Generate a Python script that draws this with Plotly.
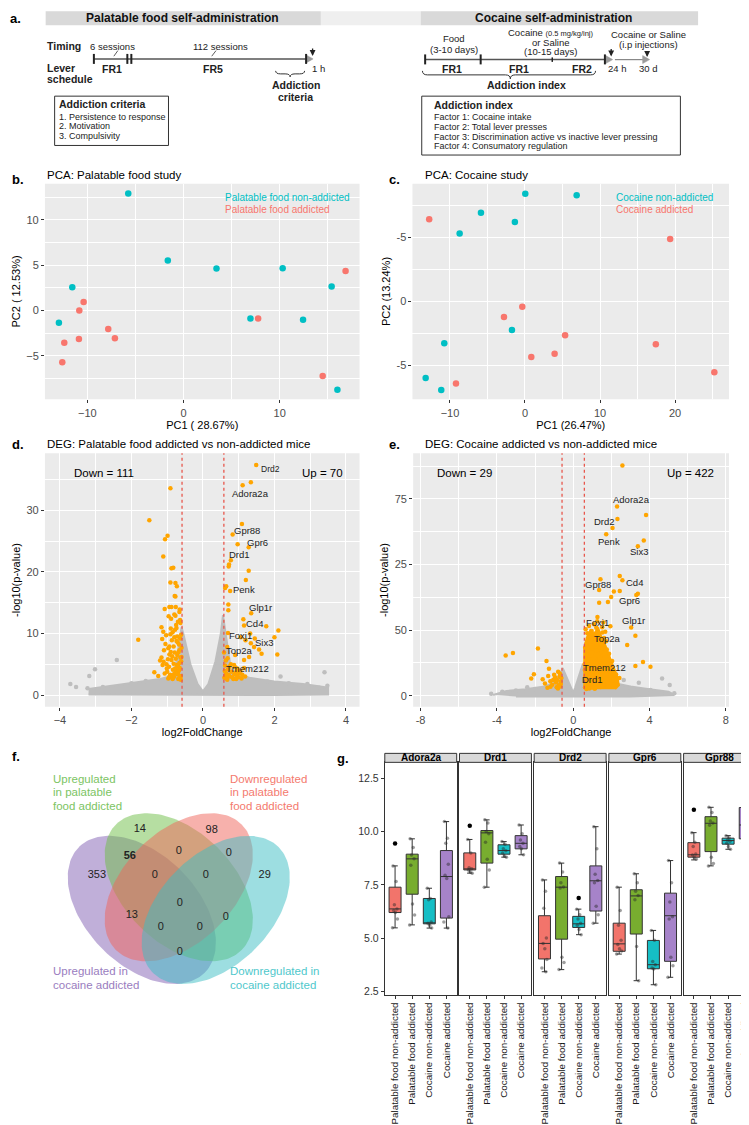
import numpy as np
import plotly.graph_objects as go

W, H = 749, 1125
FONT = "Liberation Sans, Arial, sans-serif"
RED, TEAL = "#F8766D", "#00BFC4"
ORANGE, GREY = "#FFA500", "#BEBEBE"
PANEL_BG = "#EBEBEB"

# ---------------- data ----------------
# b. PCA palatable food study
PF_NA_PC1 = [-5.74, -1.63, 3.43, 10.31, 15.4, -11.56, -12.95, 6.96, 12.43, 16.0]
PF_NA_PC2 = [12.93, 5.51, 4.63, 4.66, 2.64, 2.57, -1.36, -0.88, -1.03, -8.75]
PF_A_PC1 = [16.85, -10.38, -10.83, -7.82, -7.13, -10.87, -12.39, -12.6, 7.76, 14.47]
PF_A_PC2 = [4.37, 0.95, 0.0, -2.03, -3.05, -3.13, -3.57, -5.7, -0.88, -7.24]

# c. PCA cocaine study
COC_NA_PC1 = [0.04, 6.89, -5.87, -1.35, -8.71, -1.74, -10.76, -13.24, -11.16]
COC_NA_PC2 = [8.41, 8.3, 6.93, 6.2, 5.31, -2.24, -3.28, -5.99, -6.93]
COC_A_PC1 = [-12.77, 19.35, -0.36, -2.8, 5.35, 17.44, 3.95, 0.84, -9.2, 25.24]
COC_A_PC2 = [6.41, 4.87, -0.42, -1.22, -2.66, -3.36, -4.09, -4.35, -6.43, -5.55]
COC_Y_TICKS = [-5, 0, 5]
COC_Y_TEXT = ["-5", "0", "-5"]

# d. volcano palatable food
D_UP_X = [1.49, 1.34, 1.11, 1.09, 0.83, 0.97, 1.28, 0.78, 0.73, 0.72, 1.28, 1.20, 0.65, 0.62, 0.76,
          0.71, 0.71, 1.35, 1.13, 1.15, 1.77, 2.11, 0.70, 1.32, 1.45, 2.00, 1.34, 1.57, 1.64, 2.08,
          1.29, 1.06, 1.19, 0.68, 0.59, 0.90, 1.15, 1.43,
          0.60, 0.65, 0.70, 0.75, 0.80, 0.85, 0.90, 0.95, 1.00, 1.05, 1.10, 1.15, 0.62, 0.68, 0.78,
          0.88, 0.98, 1.08, 0.72, 0.82, 0.92, 1.18, 0.61, 0.64, 0.66, 0.87, 0.93, 1.02, 0.74, 0.69,
          0.63, 0.96]
D_UP_Y = [37.4, 34.6, 34.1, 27.8, 26.1, 24.5, 24.0, 21.9, 21.2, 20.9, 20.2, 18.7, 17.7, 17.4, 16.9,
          14.7, 13.8, 13.3, 12.3, 11.3, 11.2, 10.5, 10.1, 10.0, 9.2, 9.4, 8.4, 7.4, 6.7, 6.6,
          6.2, 9.4, 8.9, 7.8, 6.9, 6.5, 5.7, 7.8,
          2.8, 3.5, 4.2, 3.0, 3.8, 2.6, 4.5, 3.2, 2.9, 3.9, 3.3, 4.4, 4.8, 2.5, 5.0,
          3.4, 4.0, 2.7, 3.3, 2.9, 3.7, 3.0, 3.9, 5.6, 2.7, 4.9, 2.6, 3.6, 4.6, 6.0,
          3.1, 4.3]
D_DOWN_X = [-0.91, -1.50, -0.99, -1.06, -1.11, -0.83, -0.88, -0.91, -0.77, -0.73, -0.77, -0.79, -0.94,
            -0.76, -1.07, -1.81, -1.36, -1.16, -1.11, -0.94, -0.90, -1.16, -1.10, -1.01, -1.07, -0.94,
            -0.80, -0.71, -0.66, -0.76, -0.69, -0.80, -0.64, -0.83, -0.88, -0.66, -0.64, -1.13, -1.20,
            -0.62, -0.65, -0.68, -0.72, -0.75, -0.78, -0.82, -0.85, -0.87, -0.92, -0.96, -0.98, -1.03,
            -0.61, -0.63, -0.67, -0.70, -0.74, -0.79, -0.84, -0.89, -0.93, -0.97, -1.00, -1.05, -0.60,
            -0.64, -0.69, -0.73, -0.77, -0.81, -0.86, -0.91, -0.95, -0.62, -0.66, -0.71, -0.75, -0.80,
            -0.85, -0.61, -0.68, -0.74, -0.82, -0.88, -0.97, -1.09, -1.14, -0.63, -0.70, -0.78, -0.86,
            -0.94, -1.02, -0.65, -0.72, -0.67, -0.90, -1.25, -0.60]
D_DOWN_Y = [33.6, 28.4, 25.9, 25.3, 22.5, 20.7, 20.6, 18.3, 18.2, 17.7, 16.0, 16.1, 14.3,
            14.3, 14.0, 9.0, 3.7, 11.0, 10.3, 7.9, 7.0, 6.1, 5.4, 4.3, 3.5, 3.0,
            9.4, 8.6, 7.3, 5.9, 4.6, 3.5, 2.9, 2.8, 14.3, 13.5, 12.2, 4.9, 5.6,
            3.1, 4.4, 2.7, 6.5, 3.9, 10.6, 5.1, 2.6, 8.9, 3.3, 12.8, 5.8, 9.7,
            5.5, 11.7, 8.2, 3.6, 10.9, 6.9, 4.1, 12.4, 2.9, 7.6, 3.8, 8.3, 7.7,
            9.2, 2.6, 4.9, 12.9, 3.0, 6.3, 9.9, 4.6, 2.5, 5.2, 3.4, 11.4, 13.1,
            10.2, 9.8, 7.0, 8.8, 7.9, 5.7, 2.7, 7.3, 9.1, 6.1, 11.9, 4.3, 3.2,
            6.6, 5.0, 13.9, 9.5, 4.0, 10.8, 3.1, 6.2]
D_GREY_X = [-3.71, -3.55, -3.18, -3.02, -2.41, -3.23, -2.80, 3.40, 3.48, 3.25, 2.92, 2.17, 2.59,
            -2.0, -1.6, 1.8, 2.4]
D_GREY_Y = [1.8, 1.3, 3.1, 4.2, 5.7, 1.1, 1.3, 3.7, 1.5, 1.2, 1.8, 3.0, 1.6, 1.9, 2.3, 2.2, 1.9]
# outline of the dense grey cloud
D_CLOUD_X = [-3.2, -2.5, -1.8, -1.2, -0.8, -0.6, -0.55, -0.35, -0.15, 0.0, 0.15, 0.35, 0.5, 0.56,
             0.8, 1.3, 2.0, 2.8, 3.5, 3.5, 2.0, 0.0, -2.0, -3.2]
D_CLOUD_Y = [1.0, 1.6, 2.2, 2.6, 3.2, 11.0, 10.0, 5.0, 1.8, 0.6, 1.8, 5.5, 10.0, 13.0,
             3.5, 2.8, 2.2, 1.8, 1.2, 0.1, 0.0, 0.0, 0.0, 0.1]
D_GENES = ["Drd2", "Adora2a", "Gpr88", "Gpr6", "Drd1", "Penk", "Glp1r", "Cd4", "Foxj1", "Six3",
           "Top2a", "Tmem212"]
D_GENE_X = [1.58, 1.34, 1.24, 1.52, 1.03, 1.15, 1.60, 1.43, 1.06, 1.71, 1.03, 1.24]
D_GENE_Y = [36.7, 32.7, 26.8, 24.8, 22.8, 17.1, 14.2, 11.7, 9.7, 8.6, 7.2, 4.3]

# e. volcano cocaine (y in axis units, tick labels as printed)
E_UP_X = [2.58, 2.30, 3.82, 2.32, 2.06, 1.73, 3.70, 3.39, 2.44, 1.43, 2.58, 1.36, 2.13, 2.44, 3.39,
          3.31, 1.99, 1.36, 1.82, 1.27, 1.95, 3.04, 3.26, 2.83, 3.66, 4.05, 3.26, 2.42,
          0.62, 0.68, 0.75, 0.81, 0.88, 0.95, 1.02, 1.10, 1.18, 1.25, 1.33, 1.42, 1.50, 1.60, 1.70,
          1.82, 1.95, 2.10, 2.25,
          0.64, 0.71, 0.79, 0.86, 0.93, 1.00, 1.08, 1.16, 1.24, 1.31, 1.40, 1.48, 1.57, 1.66, 1.77,
          1.90, 2.04,
          0.60, 0.66, 0.73, 0.80, 0.90, 0.98, 1.06, 1.14, 1.22, 1.30, 1.38, 1.47, 1.55, 1.65, 1.76,
          1.88,
          0.63, 0.70, 0.77, 0.85, 0.92, 1.04, 1.12, 1.20, 1.28, 1.36, 1.45, 1.53, 1.62, 1.72,
          0.65, 0.74, 0.83, 0.97, 1.09, 1.21, 1.35, 1.52, 1.68, 0.61, 0.72, 0.87, 1.01, 1.15, 1.29,
          1.44, 0.69, 0.84, 0.99, 1.13, 0.67, 0.91, 1.26, 1.58]
E_UP_Y = [87.7, 72.1, 68.9, 67.3, 63.9, 61.5, 59.1, 57.0, 45.6, 44.4, 44.0, 40.3, 39.7, 39.9, 38.9,
          38.4, 37.6, 35.4, 35.7, 30.0, 26.5, 26.0, 22.9, 19.3, 12.9, 11.0, 11.3, 6.8,
          3.2, 4.1, 3.6, 5.0, 3.9, 4.6, 3.4, 5.3, 4.0, 6.1, 3.7, 4.8, 5.6, 4.3, 6.4,
          5.1, 7.2, 6.0, 8.1,
          7.5, 8.9, 6.8, 10.2, 8.3, 9.6, 7.1, 11.0, 8.7, 10.4, 7.8, 12.3, 9.1, 10.9, 11.8,
          9.4, 13.2,
          12.1, 14.5, 11.3, 15.8, 13.6, 16.4, 14.1, 12.8, 17.2, 15.0, 13.9, 16.7, 18.1, 14.8, 17.6,
          16.0,
          18.4, 19.9, 17.3, 21.2, 19.0, 22.5, 20.3, 18.8, 23.4, 21.7, 19.6, 24.1, 22.0, 20.8,
          25.3, 23.8, 26.6, 24.7, 27.2, 25.9, 23.0, 26.1, 24.4, 9.8, 6.2, 3.0, 5.8, 2.9, 4.9,
          3.3, 2.6, 2.8, 3.1, 2.7, 15.5, 20.6, 28.4, 27.9]
E_CORE_X = [0.58, 0.58, 0.7, 0.9, 1.1, 1.3, 1.5, 1.7, 1.9, 2.1, 2.3, 2.4, 2.2]
E_CORE_Y = [2.5, 18.0, 22.0, 25.0, 23.5, 26.0, 22.0, 19.0, 15.0, 11.0, 7.5, 4.0, 2.5]
E_DOWN_X = [-3.54, -3.16, -1.85, -1.40, -1.27, -0.79, -2.06, -2.20, -1.31, -1.48, -1.19, -0.87, -0.66,
            -0.95, -0.70, -1.05, -0.75, -1.60, -0.90, -1.10, -0.62, -0.80, -1.35, -0.68, -1.00, -0.72,
            -1.20, -0.85, -0.65]
E_DOWN_Y = [15.3, 16.3, 18.0, 13.2, 10.3, 9.1, 8.2, 6.6, 7.5, 4.7, 3.4, 3.2, 5.3,
            7.0, 8.5, 6.0, 4.0, 6.3, 5.0, 4.2, 6.8, 2.8, 3.0, 3.5, 8.0, 7.2,
            5.5, 6.0, 4.5]
E_GREY_X = [4.66, 5.06, -3.72, -2.41, 4.05, 3.44, 2.65, -4.3, -3.0, 5.3, -2.0, 3.0]
E_GREY_Y = [6.6, 4.1, 1.5, 3.2, 2.2, 4.9, 6.0, 0.8, 2.0, 0.9, 2.6, 2.9]
E_CLOUD_X = [-4.2, -3.5, -2.5, -1.5, -1.0, -0.7, -0.55, -0.3, -0.1, 0.0, 0.1, 0.3, 0.5, 0.7,
             1.2, 2.0, 3.0, 4.0, 5.0, 5.3, 3.0, 0.0, -3.0]
E_CLOUD_Y = [0.3, 1.8, 2.5, 3.5, 5.0, 8.0, 10.5, 6.0, 2.5, 1.2, 3.0, 8.0, 12.0, 10.0,
             6.0, 5.0, 3.5, 2.5, 1.5, 0.3, -0.3, -0.3, -0.3]
E_Y_TICKS = [0, 25, 50, 75]
E_Y_TEXT = ["0", "50", "25", "75"]
E_GENES = ["Adora2a", "Drd2", "Penk", "Six3", "Gpr88", "Cd4", "Gpr6", "Foxj1", "Glp1r", "Top2a",
           "Tmem212", "Drd1"]
E_GENE_X = [3.05, 1.64, 1.87, 3.44, 1.29, 3.21, 2.95, 1.26, 3.14, 1.78, 1.64, 0.99]
E_GENE_Y = [74.9, 66.5, 58.9, 55.0, 42.2, 43.3, 36.4, 27.8, 28.8, 21.8, 10.6, 6.0]

# f. Venn counts
VENN_COUNTS = [14, 98, 56, 0, 0, 353, 0, 0, 29, 0, 13, 0, 0, 0, 0]
VENN_LX = [132, 204, 122, 171, 221, 89, 147, 198, 257, 172, 124, 218, 153, 192, 172]
VENN_LY = [823, 824, 850, 845, 847, 869, 869, 869, 869, 897, 909, 911, 921, 921, 946]

# g. boxplots
GENES_G = ["Adora2a", "Drd1", "Drd2", "Gpr6", "Gpr88"]
GROUPS = ["Palatable food non-addicted", "Palatable food addicted", "Cocaine non-addicted",
          "Cocaine addicted"]
Q1 = [[6.20, 7.06, 5.67, 5.94], [8.20, 8.52, 8.94, 9.19], [4.02, 4.95, 5.50, 6.27],
      [4.38, 5.19, 3.56, 3.91], [8.80, 9.06, 9.41, 9.66]]
MED = [[6.37, 8.72, 5.70, 7.89], [8.25, 9.94, 9.11, 9.45], [4.75, 7.39, 5.67, 7.69],
       [4.73, 6.98, 3.75, 6.05], [8.91, 10.39, 9.58, 10.31]]
Q3 = [[7.39, 8.94, 6.86, 9.11], [9.00, 10.05, 9.38, 9.81], [6.05, 7.89, 6.02, 8.39],
      [5.70, 7.27, 4.89, 7.11], [9.48, 10.70, 9.69, 11.13]]
LOW = [[5.48, 5.62, 5.47, 5.47], [8.05, 7.39, 8.80, 8.91], [3.42, 3.52, 5.16, 5.70],
       [4.25, 3.00, 2.81, 3.16], [8.67, 8.39, 9.17, 9.42]]
HIGH = [[8.39, 9.66, 7.34, 10.47], [9.63, 10.55, 9.53, 10.31], [7.73, 8.52, 6.36, 10.23],
        [7.39, 8.02, 5.36, 8.64], [9.95, 11.14, 9.81, 12.73]]
OUTLIERS = [[[9.44], [], [], []], [[10.28], [], [], []], [[], [], [6.88], []],
            [[], [], [], []], [[11.02], [], [], []]]
SAMPLES = [
    [[8.39, 7.66, 6.56, 6.37, 6.30, 6.20, 5.90, 5.48], [9.66, 9.25, 8.90, 8.72, 8.42, 6.60, 6.08, 5.62],
     [7.34, 6.86, 6.80, 5.75, 5.70, 5.60, 5.47], [10.47, 9.69, 9.45, 8.47, 7.95, 7.80, 6.00, 5.75, 5.47]],
    [[9.63, 9.00, 8.30, 8.25, 8.20, 8.10, 8.05], [10.55, 10.40, 10.00, 9.90, 9.50, 8.70, 8.20, 7.39],
     [9.53, 9.40, 9.20, 9.10, 9.00, 8.85, 8.80], [10.31, 9.90, 9.60, 9.45, 9.30, 9.20, 8.91]],
    [[7.73, 7.20, 6.40, 5.00, 4.75, 4.50, 4.00, 3.60, 3.42], [8.52, 8.10, 7.60, 7.40, 7.35, 4.10, 3.85, 3.52],
     [6.36, 6.10, 5.90, 5.70, 5.60, 5.40, 5.16], [10.23, 9.20, 8.00, 7.70, 7.60, 6.50, 6.10, 5.70]],
    [[7.39, 6.30, 5.60, 4.90, 4.70, 4.50, 4.40, 4.25], [8.02, 7.60, 7.20, 7.00, 6.80, 4.60, 3.00],
     [5.36, 4.90, 3.90, 3.75, 3.60, 3.55, 2.81], [8.64, 7.60, 6.70, 6.00, 5.90, 4.10, 3.70, 3.16]],
    [[9.95, 9.50, 9.30, 8.95, 8.90, 8.80, 8.70], [11.14, 10.90, 10.50, 10.40, 10.30, 8.80, 8.50, 8.39],
     [9.81, 9.70, 9.60, 9.55, 9.45, 9.30, 9.17], [12.73, 11.70, 11.20, 10.50, 10.30, 10.25, 9.70, 9.50, 9.42]],
]
BOX_COLORS = ["#F2746B", "#78AD2F", "#16BEC5", "#A683C9"]
JITTER = [-0.12, 0.06, -0.04, 0.11, -0.08, 0.02, 0.14, -0.15, 0.08]


def fx(x):
    return min(1.0, max(0.0, x / W))


def fy(y):
    return min(1.0, max(0.0, 1 - y / H))


def P(x, y):
    return f"{fx(x):.5f},{fy(y):.5f}"


annotations = []
shapes = []


def note(t, x, y, size=10, color="#222222", xanchor="center", bold=False, xref="paper", yref="paper", **kw):
    if xref == "paper":
        x = fx(x)
    if yref == "paper":
        y = fy(y)
    annotations.append(dict(text=f"<b>{t}</b>" if bold else t, x=x, y=y, xref=xref, yref=yref,
                            xanchor=xanchor, yanchor="middle", showarrow=False,
                            font=dict(size=size, color=color, family=FONT), **kw))


def rect(x0, y0, x1, y1, fill=None, line="#333333", width=1):
    shapes.append(dict(type="rect", xref="paper", yref="paper", x0=fx(x0), x1=fx(x1), y0=fy(y0), y1=fy(y1),
                       fillcolor=fill or "rgba(0,0,0,0)", line=dict(color=line, width=width)))


def seg(x0, y0, x1, y1, color="#333333", width=1.5):
    shapes.append(dict(type="line", xref="paper", yref="paper", x0=fx(x0), x1=fx(x1), y0=fy(y0), y1=fy(y1),
                       line=dict(color=color, width=width)))


def brace(x0, x1, y, h, xm=None):
    xm = (x0 + x1) / 2 if xm is None else xm
    r = 5
    m = y + h / 2
    path = (f"M {P(x0, y)} Q {P(x0, m)} {P(x0 + r, m)} L {P(xm - r, m)} Q {P(xm, m)} {P(xm, y + h)} "
            f"Q {P(xm, m)} {P(xm + r, m)} L {P(x1 - r, m)} Q {P(x1, m)} {P(x1, y)}")
    shapes.append(dict(type="path", xref="paper", yref="paper", path=path, line=dict(color="#333333", width=1)))


def down_arrow(x, y, length=9):
    annotations.append(dict(x=fx(x), y=fy(y), xref="paper", yref="paper", ax=0, ay=-length, text="",
                            showarrow=True, arrowhead=2, arrowsize=0.9, arrowwidth=1.3, arrowcolor="#222222"))


def tri(x, y):
    path = f"M {P(x, y - 4)} L {P(x + 7, y)} L {P(x, y + 4)} Z"
    shapes.append(dict(type="path", xref="paper", yref="paper", path=path, fillcolor="#9A9A9A",
                       line=dict(color="#9A9A9A", width=0.5)))


fig = go.Figure()

# ---------------- panel a (schematic) ----------------
note("a.", 8, 11, 13, "black", bold=True)
rect(37.7, 3.3, 313.3, 17.3, fill="#D9D9D9", line="rgba(0,0,0,0)")
rect(313.3, 3.3, 413.3, 17.3, fill="#EFEFEF", line="rgba(0,0,0,0)")
rect(413.3, 3.3, 691, 17.3, fill="#D9D9D9", line="rgba(0,0,0,0)")
note("Palatable food self-administration", 175, 10.5, 12, "#111111", bold=True)
note("Cocaine self-administration", 546, 10.5, 12, "#111111", bold=True)

note("Timing", 37.3, 38.5, 10.5, bold=True, xanchor="left")
note("Lever", 37.3, 60, 10.5, bold=True, xanchor="left")
note("schedule", 37.3, 71.5, 10.5, bold=True, xanchor="left")
seg(86, 51, 299, 51, "#555555", 1.5)
tri(298.5, 51)
for xt in [86, 119.5, 123.5, 298.5]:
    seg(xt, 46, xt, 56, "#222222", 2)
note("6 sessions", 104.3, 38.5, 9.5)
note("112 sessions", 212.3, 38.5, 9.5)
seg(106, 48.3, 110, 42.7, "#333333", 0.8)
seg(204, 48.3, 208.3, 42.7, "#333333", 0.8)
note("FR1", 104.3, 61, 10.5, bold=True)
note("FR5", 205, 61, 10.5, bold=True)
down_arrow(305, 48, 9)
note("1 h", 311, 61, 9.5)
brace(268, 297, 63, 6)
note("Addiction", 288.3, 77, 10.5, bold=True)
note("criteria", 288.3, 89, 10.5, bold=True)
rect(46.7, 88.3, 160.7, 137.7)
note("Addiction criteria", 49, 96.5, 10.5, bold=True, xanchor="left")
for i, t in enumerate(["1. Persistence to response", "2. Motivation", "3. Compulsivity"]):
    note(t, 49.3, 109 + i * 9.4, 9, xanchor="left")

note("Food", 446.7, 31, 9.5)
note("(3-10 days)", 446.7, 41.7, 9.5)
note("Cocaine <span style='font-size:7.5px'>(0.5 mg/kg/inj)</span>", 543.3, 24.3, 9.5)
note("or Saline", 543.3, 34.3, 9.5)
note("(10-15 days)", 543.3, 44, 9.5)
note("Cocaine or Saline", 641.7, 26.7, 9.5)
note("(i.p injections)", 641.7, 36.7, 9.5)
seg(417.7, 51.7, 599, 51.7, "#555555", 1.5)
tri(598.5, 51.7)
seg(607.7, 51.7, 636, 51.7, "#888888", 1.2)
tri(635.5, 51.7)
for xt in [417.7, 473.3, 597.7]:
    seg(xt, 46.5, xt, 56.5, "#222222", 2)
seg(545, 49.5, 545, 54, "#222222", 1.5)
down_arrow(604, 48.5, 9)
down_arrow(640, 49, 6)
note("FR1", 445, 61, 10.5, bold=True)
note("FR1", 511.7, 61, 10.5, bold=True)
note("FR2", 575, 61, 10.5, bold=True)
note("24 h", 610, 61, 9.5)
note("30 d", 641.7, 61, 9.5)
brace(415, 588.3, 63, 8, xm=503)
note("Addiction index", 519, 77, 10.5, bold=True)
rect(414.3, 88.3, 673.3, 147.3)
note("Addiction index", 424.3, 97.5, 10.5, bold=True, xanchor="left")
for i, t in enumerate(["Factor 1: Cocaine intake", "Factor 2: Total lever presses",
                       "Factor 3: Discrimination active vs inactive lever pressing",
                       "Factor 4: Consumatory regulation"]):
    note(t, 424.3, 109.3 + i * 9.8, 9, xanchor="left")


# ---------------- axis helpers ----------------
def gg_axis(domain, rng, **kw):
    ax = dict(domain=domain, range=rng, showgrid=True, gridcolor="white", gridwidth=1.1,
              zeroline=False, showline=False, ticks="outside", ticklen=3, tickwidth=1,
              tickcolor="#333333", tickfont=dict(size=11, color="#4D4D4D", family=FONT),
              title_font=dict(size=11, color="black", family=FONT))
    ax.update(kw)
    return ax


def minor(step=None, vals=None):
    m = dict(showgrid=True, gridcolor="white", gridwidth=0.5, ticks="")
    if vals is not None:
        m["tickvals"] = vals
    else:
        m["dtick"] = step
    return m


def panel_bg(n):
    sfx = "" if n == 1 else str(n)
    shapes.append(dict(type="rect", xref=f"x{sfx} domain", yref=f"y{sfx} domain", x0=0, x1=1, y0=0, y1=1,
                       fillcolor=PANEL_BG, line=dict(width=0), layer="below"))


layout_axes = {}

# ---------------- panel b ----------------
fig.add_trace(go.Scatter(x=PF_NA_PC1, y=PF_NA_PC2, mode="markers", marker=dict(color=TEAL, size=6.5),
                         xaxis="x", yaxis="y"))
fig.add_trace(go.Scatter(x=PF_A_PC1, y=PF_A_PC2, mode="markers", marker=dict(color=RED, size=6.5),
                         xaxis="x", yaxis="y"))
layout_axes["xaxis"] = gg_axis([fx(37), fx(352)], [-14.4, 18.3], anchor="y", dtick=10, tick0=0,
                               minor=minor(5), title=dict(text="PC1 ( 28.67%)", standoff=3))
layout_axes["yaxis"] = gg_axis([fy(392), fy(176)], [-9.8, 14.0], anchor="x", dtick=5, tick0=0,
                               minor=minor(2.5), title=dict(text="PC2 ( 12.53%)", standoff=3))
panel_bg(1)
note("b.", 2, 172, 13, "black", bold=True, xanchor="left")
note("PCA: Palatable food study", 37, 167, 11.5, "black", xanchor="left")
note("Palatable food non-addicted", 215, 189.5, 10, TEAL, xanchor="left")
note("Palatable food addicted", 215, 201.5, 10, RED, xanchor="left")

# ---------------- panel c ----------------
fig.add_trace(go.Scatter(x=COC_NA_PC1, y=COC_NA_PC2, mode="markers", marker=dict(color=TEAL, size=6.5),
                         xaxis="x2", yaxis="y2"))
fig.add_trace(go.Scatter(x=COC_A_PC1, y=COC_A_PC2, mode="markers", marker=dict(color=RED, size=6.5),
                         xaxis="x2", yaxis="y2"))
layout_axes["xaxis2"] = gg_axis([fx(405), fx(722)], [-15.0, 27.2], anchor="y2", dtick=10, tick0=0,
                                minor=minor(5), title=dict(text="PC1 (26.47%)", standoff=3))
layout_axes["yaxis2"] = gg_axis([fy(392), fy(176)], [-7.66, 9.2], anchor="x2", tickmode="array",
                                tickvals=COC_Y_TICKS, ticktext=COC_Y_TEXT,
                                minor=minor(vals=[-2.5, 2.5, 7.5]), title=dict(text="PC2 (13.24%)", standoff=3))
panel_bg(2)
note("c.", 380, 172, 13, "black", bold=True, xanchor="left")
note("PCA: Cocaine study", 415.7, 167, 11.5, "black", xanchor="left")
note("Cocaine non-addicted", 607, 189.5, 10, TEAL, xanchor="left")
note("Cocaine addicted", 607, 201.5, 10, RED, xanchor="left")

# ---------------- panel d ----------------
fig.add_trace(go.Scatter(x=D_CLOUD_X, y=D_CLOUD_Y, mode="lines", fill="toself", fillcolor=GREY,
                         line=dict(color=GREY, width=2), xaxis="x3", yaxis="y3"))
fig.add_trace(go.Scatter(x=D_GREY_X, y=D_GREY_Y, mode="markers", marker=dict(color=GREY, size=4.5),
                         xaxis="x3", yaxis="y3"))
fig.add_trace(go.Scatter(x=D_DOWN_X + D_UP_X, y=D_DOWN_Y + D_UP_Y, mode="markers",
                         marker=dict(color=ORANGE, size=4.5), xaxis="x3", yaxis="y3"))
layout_axes["xaxis3"] = gg_axis([fx(37), fx(352)], [-4.42, 4.38], anchor="y3", dtick=2, tick0=0,
                                minor=minor(1), title=dict(text="log2FoldChange", standoff=3))
layout_axes["yaxis3"] = gg_axis([fy(700), fy(446)], [-1.9, 39.3], anchor="x3", dtick=10, tick0=0,
                                minor=minor(5), title=dict(text="-log10(p-value)", standoff=3))
panel_bg(3)
for xv in [-0.585, 0.585]:
    shapes.append(dict(type="line", xref="x3", yref="y3 domain", x0=xv, x1=xv, y0=0, y1=1,
                       line=dict(color="#E8574C", width=1.3, dash="dot")))
note("d.", 2, 437.7, 13, "black", bold=True, xanchor="left")
note("DEG: Palatable food addicted vs non-addicted mice", 37, 436.7, 11.5, "black", xanchor="left")
note("Down = 111", 96, 466, 11.5, "black", xref="paper")
note("Up = 70", 315, 466, 11.5, "black", xref="paper")
for g, gx, gy in zip(D_GENES, D_GENE_X, D_GENE_Y):
    note(g, gx, gy, 9.5 if g != "Drd2" else 8.5, "#222222",
         xanchor="left" if g == "Drd2" else "center", xref="x3", yref="y3")

# ---------------- panel e ----------------
fig.add_trace(go.Scatter(x=E_CLOUD_X, y=E_CLOUD_Y, mode="lines", fill="toself", fillcolor=GREY,
                         line=dict(color=GREY, width=2), xaxis="x4", yaxis="y4"))
fig.add_trace(go.Scatter(x=E_GREY_X, y=E_GREY_Y, mode="markers", marker=dict(color=GREY, size=4.5),
                         xaxis="x4", yaxis="y4"))
fig.add_trace(go.Scatter(x=E_CORE_X, y=E_CORE_Y, mode="lines", fill="toself", fillcolor=ORANGE,
                         line=dict(color=ORANGE, width=2), xaxis="x4", yaxis="y4"))
fig.add_trace(go.Scatter(x=E_DOWN_X + E_UP_X, y=E_DOWN_Y + E_UP_Y, mode="markers",
                         marker=dict(color=ORANGE, size=4.5), xaxis="x4", yaxis="y4"))
layout_axes["xaxis4"] = gg_axis([fx(405.7), fx(722)], [-8.39, 8.17], anchor="y4", tickmode="array",
                                tickvals=[-8, -4, 0, 4, 8], ticktext=["-8", "-4", "0", "4", "8"],
                                minor=minor(vals=[-6, -2, 2, 6]), title=dict(text="log2FoldChange", standoff=3))
layout_axes["yaxis4"] = gg_axis([fy(700), fy(446)], [-4.2, 92.4], anchor="x4", tickmode="array",
                                tickvals=E_Y_TICKS, ticktext=E_Y_TEXT,
                                minor=minor(vals=[12.5, 37.5, 62.5, 87.5]),
                                title=dict(text="-log10(p-value)", standoff=3))
panel_bg(4)
for xv in [-0.585, 0.585]:
    shapes.append(dict(type="line", xref="x4", yref="y4 domain", x0=xv, x1=xv, y0=0, y1=1,
                       line=dict(color="#E8574C", width=1.3, dash="dot")))
note("e.", 380, 437.7, 13, "black", bold=True, xanchor="left")
note("DEG: Cocaine addicted vs non-addicted mice", 415.7, 436.7, 11.5, "black", xanchor="left")
note("Down = 29", 457.3, 466, 11.5, "black")
note("Up = 422", 683.3, 466, 11.5, "black")
for g, gx, gy in zip(E_GENES, E_GENE_X, E_GENE_Y):
    note(g, gx, gy, 9.5, "#222222", xref="x4", yref="y4")


# ---------------- panel f (Venn) ----------------
def ellipse_xy(cx, cy, a, b, ang_deg, n=160):
    t = np.linspace(0, 2 * np.pi, n)
    ang = np.deg2rad(ang_deg)
    x = cx + a * np.cos(t) * np.cos(ang) - b * np.sin(t) * np.sin(ang)
    y = cy + a * np.cos(t) * np.sin(ang) + b * np.sin(t) * np.cos(ang)
    return x, y


VENN_SETS = [  # centre x, centre y (px), angle, fill
    (134, 903.5, 45, "rgba(140,110,185,0.55)"),
    (171, 880.8, 45, "rgba(110,190,70,0.5)"),
    (171, 880.8, -45, "rgba(240,100,90,0.5)"),
    (208, 903.5, -45, "rgba(60,190,195,0.5)"),
]
for cx, cy, ang, col in VENN_SETS:
    ex, ey = ellipse_xy(cx, cy, 89, 55.6, ang)
    fig.add_trace(go.Scatter(x=ex, y=ey, mode="lines", fill="toself", fillcolor=col,
                             line=dict(width=0, color=col), xaxis="x5", yaxis="y5"))
fig.add_trace(go.Scatter(x=VENN_LX, y=VENN_LY, mode="text",
                         text=[f"<b>{c}</b>" if c == 56 else str(c) for c in VENN_COUNTS],
                         textfont=dict(size=11, color="#222222", family=FONT), xaxis="x5", yaxis="y5"))
layout_axes["xaxis5"] = dict(domain=[0, fx(340)], range=[0, 340], visible=False, anchor="y5")
layout_axes["yaxis5"] = dict(domain=[fy(1080), fy(740)], range=[1080, 740], visible=False, anchor="x5")
note("f.", 2, 750, 13, "black", bold=True, xanchor="left")
GREEN_T, RED_T, TEAL_T, PURPLE_T = "#7CC463", "#F47A6E", "#4FC8CC", "#9A7DC0"
for i, t in enumerate(["Upregulated", "in palatable", "food addicted"]):
    note(t, 43, 772.3 + i * 13.5, 11.5, GREEN_T, xanchor="left")
for i, t in enumerate(["Downregulated", "in palatable", "food addicted"]):
    note(t, 220, 772.3 + i * 13.5, 11.5, RED_T, xanchor="left")
for i, t in enumerate(["Upregulated in", "cocaine addicted"]):
    note(t, 43.3, 965 + i * 14, 11.5, PURPLE_T, xanchor="left")
for i, t in enumerate(["Downregulated in", "cocaine addicted"]):
    note(t, 220, 965 + i * 14, 11.5, TEAL_T, xanchor="left")

# ---------------- panel g (faceted boxplots) ----------------
note("g.", 335, 752.3, 13, "black", bold=True)
for f, gene in enumerate(GENES_G):
    n = 6 + f
    left = 377.3 + f * 74.8
    right = min(left + 72, 748.5)
    for k in range(4):
        fig.add_trace(go.Box(x=[k + 1], q1=[Q1[f][k]], median=[MED[f][k]], q3=[Q3[f][k]],
                             lowerfence=[LOW[f][k]], upperfence=[HIGH[f][k]], width=0.7,
                             whiskerwidth=0.45, fillcolor=BOX_COLORS[k], boxpoints=False,
                             line=dict(color="#333333", width=1), xaxis=f"x{n}", yaxis=f"y{n}"))
        vals = SAMPLES[f][k]
        fig.add_trace(go.Scatter(x=[k + 1 + JITTER[j % len(JITTER)] for j in range(len(vals))], y=vals,
                                 mode="markers", marker=dict(color="rgba(40,40,40,0.45)", size=3.5),
                                 xaxis=f"x{n}", yaxis=f"y{n}"))
        if OUTLIERS[f][k]:
            fig.add_trace(go.Scatter(x=[k + 1] * len(OUTLIERS[f][k]), y=OUTLIERS[f][k], mode="markers",
                                     marker=dict(color="black", size=4.5), xaxis=f"x{n}", yaxis=f"y{n}"))
    layout_axes[f"xaxis{n}"] = dict(domain=[fx(left), fx(right)], range=[0.4, 4.6], anchor=f"y{n}",
                                    tickmode="array", tickvals=[1, 2, 3, 4], ticktext=GROUPS,
                                    tickangle=-90, ticks="outside", ticklen=3, tickcolor="#333333",
                                    tickfont=dict(size=9.8, color="#1A1A1A", family=FONT),
                                    showgrid=False, zeroline=False, showline=True, mirror=True,
                                    linecolor="#333333", linewidth=1)
    yax = dict(domain=[fy(988.3), fy(755.7)], range=[2.35, 13.25], anchor=f"x{n}", showgrid=False,
               zeroline=False, showline=True, mirror=True, linecolor="#333333", linewidth=1)
    if f == 0:
        yax.update(tick0=2.5, dtick=2.5, tickformat=".1f", ticks="outside", ticklen=3,
                   tickcolor="#333333", tickfont=dict(size=10.5, color="#333333", family=FONT))
    else:
        yax.update(showticklabels=False, ticks="")
    layout_axes[f"yaxis{n}"] = yax
    rect(left, 746.7, right, 755.7, fill="#D9D9D9", line="#333333", width=1)
    note(gene, (left + right) / 2, 751.3, 10, "black", bold=True)

fig.update_layout(
    width=W, height=H, autosize=False, margin=dict(l=0, r=0, t=0, b=0),
    paper_bgcolor="white", plot_bgcolor="white", showlegend=False,
    font=dict(family=FONT, size=11, color="#222222"),
    annotations=annotations, shapes=shapes, **layout_axes,
)

fig.write_html("out.html")
